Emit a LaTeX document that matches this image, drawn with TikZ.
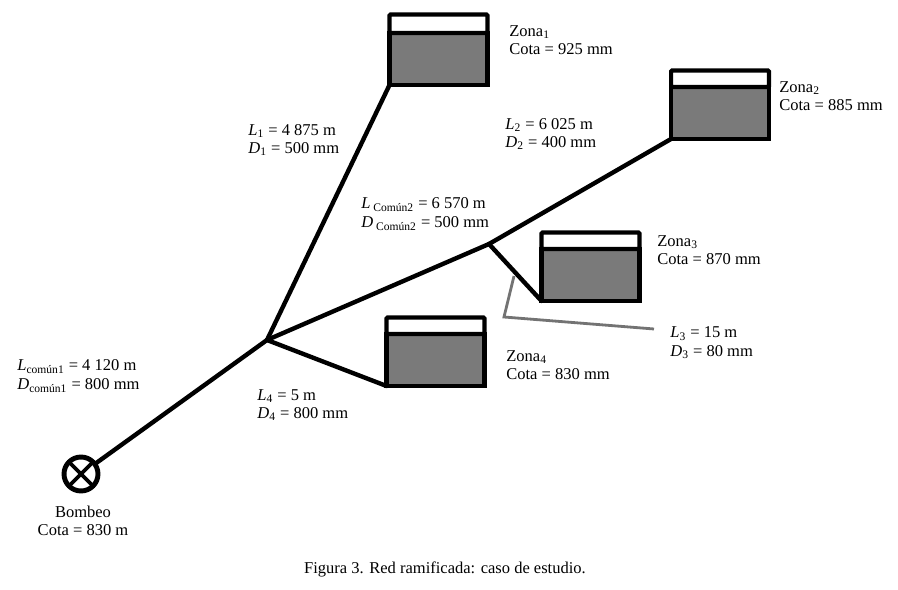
\documentclass[tikz,border=0pt]{standalone}
\usepackage{fontspec}
\setmainfont{Liberation Serif}
\usetikzlibrary{positioning}
\newcommand{\Var}[2]{\textit{#1}\textsubscript{#2}}
\tikzset{
  cuerpo/.style={draw=black, line width=2.3pt, fill=black!52, minimum width=1.96cm, minimum height=1.04cm, inner sep=0pt, outer sep=0pt},
  tapa/.style={draw=black, line width=2.3pt, fill=white, rounded corners=0.5pt, minimum width=1.96cm, minimum height=0.33cm, inner sep=0pt, outer sep=0pt},
  tubo/.style={line width=2.5pt, line cap=round, black},
  guia/.style={line width=1.6pt, black!55},
  texto/.style={anchor=west, align=left, inner sep=0pt, font=\fontsize{9.4}{10.6}\selectfont},
  bomba/.style={draw=black, line width=2.8pt, circle, minimum size=0.68cm, inner sep=0pt,
    path picture={\draw[line width=2.2pt] (path picture bounding box.south west) -- (path picture bounding box.north east)
      (path picture bounding box.north west) -- (path picture bounding box.south east);}}
}
\begin{document}
\begin{tikzpicture}[x=0.02cm, y=-0.02cm]
    \useasboundingbox (0,0) rectangle (898,590);

    % Depositos
    \node[cuerpo] (cuerpo1) at (438.5,59) {};
    \node[tapa, minimum height=0.37cm, above=0pt of cuerpo1] (tapa1) {};
    \node[cuerpo] (cuerpo2) at (720,113) {};
    \node[tapa, above=0pt of cuerpo2] (tapa2) {};
    \node[cuerpo] (cuerpo3) at (590.5,275) {};
    \node[tapa, above=0pt of cuerpo3] (tapa3) {};
    \node[cuerpo] (cuerpo4) at (435.5,360) {};
    \node[tapa, above=0pt of cuerpo4] (tapa4) {};

    % Bombeo y nudos
    \node[bomba] (bomba) at (81,474) {};
    \coordinate (N1) at (267,340);
    \coordinate (N2) at (489,244);

    % Tuberias
    \draw[tubo] (bomba) -- (N1);
    \draw[tubo] (N1) -- (cuerpo1.south west);
    \draw[tubo] (N1) -- (N2);
    \draw[tubo] (N2) -- (cuerpo2.south west);
    \draw[tubo] (N2) -- (cuerpo3.south west);
    \draw[tubo] (N1) -- (cuerpo4.south west);

    % Linea guia del tramo 3
    \coordinate (G1) at (514,276);
    \coordinate (G2) at (504,317);
    \coordinate (G3) at (654,329);
    \draw[guia] (G1) -- (G2) -- (G3);

    % Textos de las zonas
    \node[texto] (zona1) at (509,40) {Zona\textsubscript{1}\\Cota = 925 mm};
    \node[texto] (zona2) at (779,96) {Zona\textsubscript{2}\\Cota = 885 mm};
    \node[texto] (zona3) at (657,250) {Zona\textsubscript{3}\\Cota = 870 mm};
    \node[texto] (zona4) at (506,365) {Zona\textsubscript{4}\\Cota = 830 mm};

    % Textos de los tramos
    \node[texto] (tramo1) at (248,140) {\Var{L}{1} = 4 875 m\\\Var{D}{1} = 500 mm};
    \node[texto] (tramo2) at (505,134) {\Var{L}{2} = 6 025 m\\\Var{D}{2} = 400 mm};
    \node[texto] (tramo3) at (670,343) {\Var{L}{3} = 15 m\\\Var{D}{3} = 80 mm};
    \node[texto] (tramo4) at (257,405) {\Var{L}{4} = 5 m\\\Var{D}{4} = 800 mm};
    \node[texto] (comun2) at (361,214) {\Var{L}{ Común2} = 6 570 m\\\Var{D}{ Común2} = 500 mm};
    \node[texto] (comun1) at (17,376) {\Var{L}{común1} = 4 120 m\\\Var{D}{común1} = 800 mm};

    \node[texto, anchor=center, align=center] (rotulo) at (83,521) {Bombeo\\Cota = 830 m};
    \node[texto, anchor=center] (pie) at (445,569) {Figura 3. Red ramificada: caso de estudio.};
\end{tikzpicture}
\end{document}
